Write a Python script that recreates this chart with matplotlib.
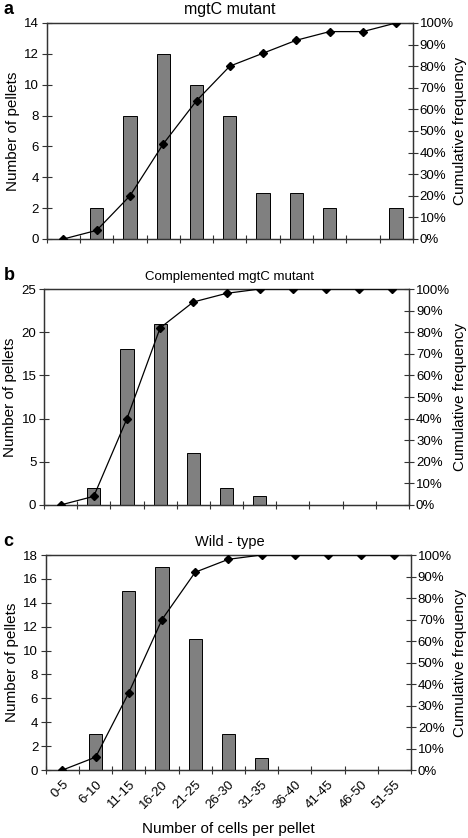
import numpy as np
from matplotlib import pyplot as plt
from matplotlib.ticker import PercentFormatter

plt.rcParams['font.family'] = ['Liberation Sans', 'DejaVu Sans']

# Dados
categories = ['0-5', '6-10', '11-15', '16-20', '21-25', '26-30',
              '31-35', '36-40', '41-45', '46-50', '51-55']
mutant_counts = [0, 2, 8, 12, 10, 8, 3, 3, 2, 0, 2]
mutant_cum = [0, 4, 20, 44, 64, 80, 86, 92, 96, 96, 100]
compl_counts = [0, 2, 18, 21, 6, 2, 1, 0, 0, 0, 0]
compl_cum = [0, 4, 40, 82, 94, 98, 100, 100, 100, 100, 100]
wild_counts = [0, 3, 15, 17, 11, 3, 1, 0, 0, 0, 0]
wild_cum = [0, 6, 36, 70, 92, 98, 100, 100, 100, 100, 100]

panels = [
    ('a', 'mgtC mutant', mutant_counts, mutant_cum, 14, 2,
     [0.100, 0.7148, 0.782, 0.2578], 11.5),
    ('b', 'Complemented mgtC mutant', compl_counts, compl_cum, 25, 5,
     [0.094, 0.3974, 0.780, 0.2577], 9.5),
    ('c', 'Wild - type', wild_counts, wild_cum, 18, 2,
     [0.098, 0.0811, 0.780, 0.2566], 10.5),
]

fig = plt.figure(figsize=(4.68, 8.38), dpi=100)
x = np.arange(len(categories))
axcolor = '#333333'
tick_fs = 9.5
label_fs = 11

for letter, title, counts, cum, ymax, ystep, rect, tsize in panels:
    ax = fig.add_axes(rect)
    ax.bar(x, counts, width=0.4, color='#808080', edgecolor='black', linewidth=0.7, zorder=2)
    ax.set_xlim(-0.5, len(categories) - 0.5)
    ax.set_ylim(0, ymax)
    ax.set_yticks(np.arange(0, ymax + 1, ystep))
    ax.set_xticks(np.arange(-0.5, len(categories) + 0.5, 1))
    ax.set_xticklabels([])
    ax.tick_params(axis='x', direction='inout', length=6, width=0.8, color=axcolor)
    ax.tick_params(axis='y', direction='inout', length=7, width=0.8, color=axcolor,
                   labelsize=tick_fs, pad=2)
    for s in ax.spines.values():
        s.set_color(axcolor)
        s.set_linewidth(0.9)
    ax.set_ylabel('Number of pellets', fontsize=label_fs, labelpad=3)

    ax2 = ax.twinx()
    ax2.plot(x, cum, color='black', linewidth=0.9, marker='D', markersize=3.8, zorder=3)
    ax2.set_ylim(0, 100)
    ax2.set_yticks(np.arange(0, 101, 10))
    ax2.yaxis.set_major_formatter(PercentFormatter(decimals=0))
    ax2.tick_params(axis='y', direction='inout', length=7, width=0.8, color=axcolor,
                    labelsize=tick_fs, pad=1.5)
    for s in ax2.spines.values():
        s.set_color(axcolor)
        s.set_linewidth(0.9)

    mid = rect[1] + rect[3] / 2
    fig.text(0.983, mid, 'Cumulative frequency', rotation=90, ha='center', va='center',
             fontsize=label_fs)

    top = rect[1] + rect[3]
    fig.text(0.49, top + 0.007, title, ha='center', va='bottom', fontsize=tsize)
    fig.text(0.008, top + 0.006, letter, ha='left', va='bottom', fontsize=13, fontweight='bold')

    if letter == 'c':
        ax.set_xticks(x, minor=True)
        ax.set_xticklabels(categories, minor=True, rotation=45, ha='right',
                           rotation_mode='anchor', fontsize=tick_fs)
        ax.tick_params(axis='x', which='minor', length=0, pad=6)
        ax.set_xlabel('Number of cells per pellet', fontsize=label_fs, labelpad=8)

fig.savefig('out.png', dpi=100)
